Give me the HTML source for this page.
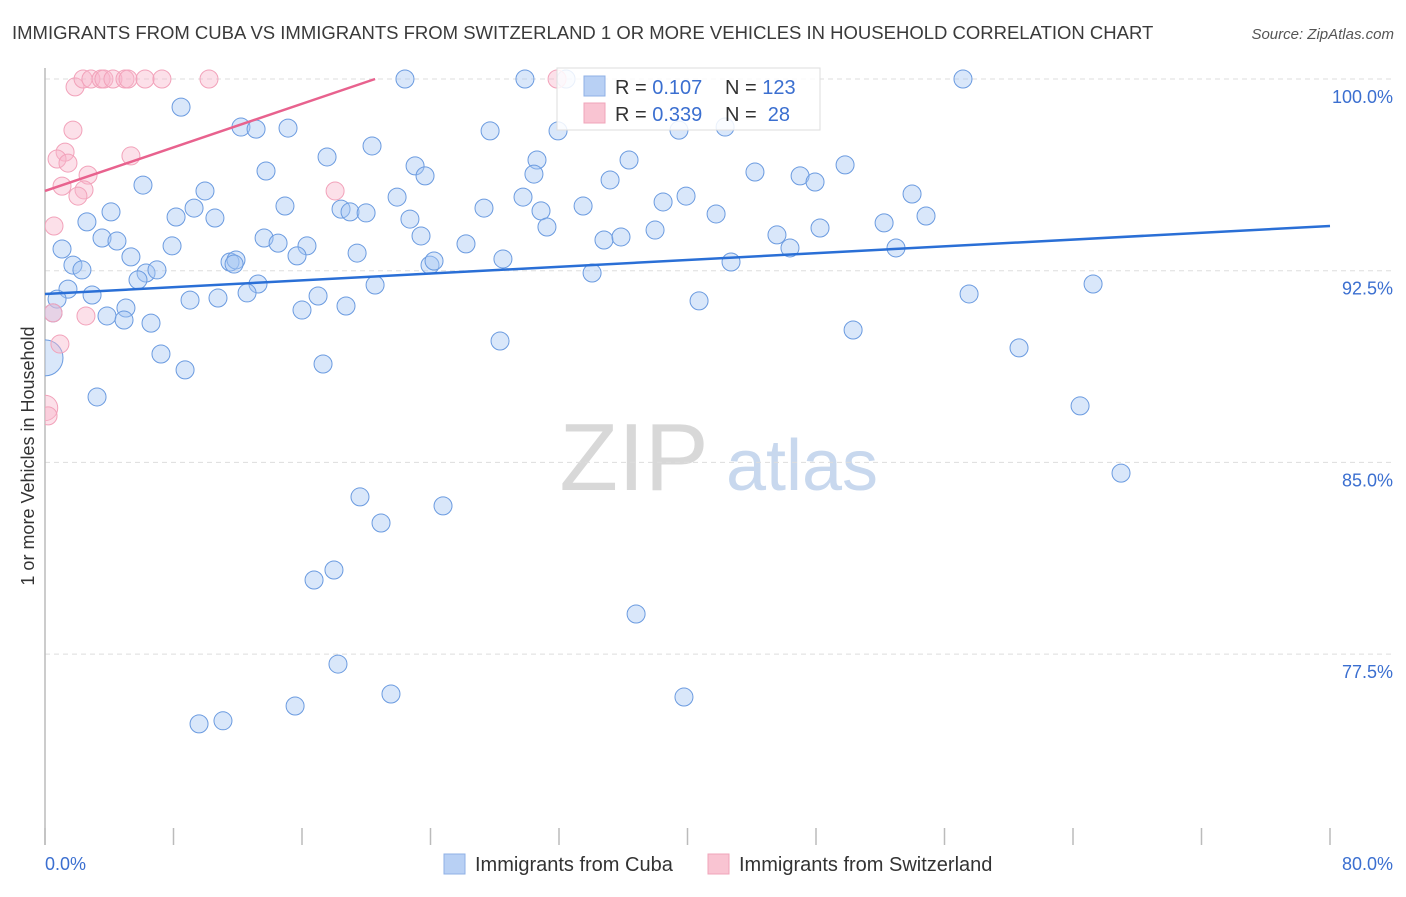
<!DOCTYPE html>
<html><head><meta charset="utf-8"><style>
body{margin:0;background:#fff;font-family:"Liberation Sans",sans-serif;}
svg text{font-family:"Liberation Sans",sans-serif;}
</style></head><body>
<svg id="chart" width="1406" height="892" xmlns="http://www.w3.org/2000/svg">
<defs><clipPath id="plotclip"><rect x="45" y="0" width="1361" height="845"/></clipPath></defs>
<text x="12" y="39" font-size="18.5" fill="#3a3a3a">IMMIGRANTS FROM CUBA VS IMMIGRANTS FROM SWITZERLAND 1 OR MORE VEHICLES IN HOUSEHOLD CORRELATION CHART</text>
<text x="1394" y="39" font-size="15" fill="#555" text-anchor="end" font-style="italic">Source: ZipAtlas.com</text>
<text transform="translate(34,456) rotate(-90)" font-size="18" fill="#333" text-anchor="middle">1 or more Vehicles in Household</text>
<g>
<text x="634" y="490" font-size="96" fill="#d8d8d8" text-anchor="middle" font-family="Liberation Serif,serif">ZIP</text>
<text x="802" y="490" font-size="72" fill="#c8d8ee" text-anchor="middle">atlas</text>
</g>
<g id="grid"></g><g id="marks" clip-path="url(#plotclip)"></g><g id="lines"></g>
<g>
<rect x="557" y="68" width="263" height="62" fill="#fff" fill-opacity="0.85" stroke="#ddd"/>
<rect x="584" y="76" width="21" height="20" fill="#b8d0f4" stroke="#8fb0e6"/>
<rect x="584" y="103" width="21" height="20" fill="#f9c4d2" stroke="#f0a4ba"/>
<text x="615" y="94" font-size="20" fill="#333">R = <tspan fill="#3b6fd0">0.107</tspan></text>
<text x="725" y="94" font-size="20" fill="#333">N = <tspan fill="#3b6fd0">123</tspan></text>
<text x="615" y="121" font-size="20" fill="#333">R = <tspan fill="#3b6fd0">0.339</tspan></text>
<text x="725" y="121" font-size="20" fill="#333">N = <tspan fill="#3b6fd0">&#160;28</tspan></text>
</g>
<g>
<rect x="444" y="854" width="21" height="20" fill="#b8d0f4" stroke="#8fb0e6"/>
<text x="475" y="871" font-size="20" fill="#333">Immigrants from Cuba</text>
<rect x="708" y="854" width="21" height="20" fill="#f9c4d2" stroke="#f0a4ba"/>
<text x="739" y="871" font-size="20" fill="#333">Immigrants from Switzerland</text>
</g>
</svg>
<script>
const yTicks=[100,92.5,85,77.5];
const xTickLabels=["0.0%","80.0%"];
const cubaX=[8.47,12.20,13.14,15.13,22.41,29.88,32.44,57.15,27.71,31.94,39.47,42.34,20.36,17.56,13.76,6.10,9.96,23.04,23.66,30.63,30.44,36.36,35.18,44.20,47.01,47.94,49.81,53.98,39.91,38.48,33.50,29.76,21.92,14.94,9.28,8.16,4.11,2.61,10.58,18.43,18.99,19.99,27.33,30.88,41.78,54.85,52.24,31.25,22.72,48.25,37.98,45.57,1.06,3.55,4.48,7.91,13.64,14.51,16.31,23.41,26.21,34.80,35.86,46.38,52.98,5.35,1.74,2.30,6.29,6.97,11.52,11.89,11.77,15.69,19.43,23.97,24.22,28.51,42.71,34.06,5.79,1.43,0.75,2.93,13.26,20.55,17.00,9.03,10.77,12.58,5.04,3.86,4.92,6.60,16.00,18.74,40.72,57.53,65.25,0.50,50.31,7.22,28.33,60.64,8.72,17.31,0,3.24,64.44,66.99,19.61,24.78,20.92,16.75,17.99,36.80,18.24,21.54,39.78,15.57,9.59,11.08];
const cubaY=[98.90,98.12,98.04,98.08,100,100,100,100,97.97,97.97,98.00,98.12,97.38,96.95,96.40,95.85,95.62,96.60,96.21,96.83,96.28,96.83,96.05,96.36,96.21,95.97,96.64,95.50,95.42,95.19,95.03,95.38,95.38,95.03,94.95,94.60,94.80,94.41,94.56,94.91,94.80,94.76,94.95,94.84,94.72,94.64,94.37,94.21,94.52,94.17,94.09,93.90,93.35,93.78,93.66,93.47,93.78,93.58,93.47,93.86,93.55,93.70,93.82,93.39,93.39,93.04,92.72,92.53,92.41,92.53,92.84,92.92,92.76,93.08,93.19,92.72,92.88,92.96,92.84,92.41,92.14,91.78,91.39,91.55,91.98,91.94,91.51,91.35,91.43,91.63,91.04,90.73,90.57,90.45,90.96,91.12,91.32,91.59,91.98,90.85,90.18,89.24,89.75,89.48,88.62,88.85,89.09,87.56,87.21,84.58,83.65,83.30,82.63,80.40,80.79,79.07,77.11,75.94,75.82,75.47,74.77,74.89];
const cubaWeight=cubaX.map((x,i)=>i===106?4:1);
const swissX=[1.87,2.37,2.86,3.49,3.67,4.23,4.98,5.17,6.23,7.28,10.21,31.88,1.74,1.25,0.75,1.43,2.68,5.35,1.06,2.43,2.05,18.06,0.56,2.55,0.93,0.50,0,0.19];
const swissY=[99.69,100,100,100,100,100,100,100,100,100,100,100,98.00,97.14,96.87,96.71,96.24,96.99,95.81,95.66,95.42,95.62,94.25,90.73,89.63,90.85,87.13,86.82];
const swissWeight=swissX.map((x,i)=>i===26?2:1);
const cubaTrend=[91.59,94.25];
const swissTrend=[95.62,100.0,20.55];

const X0=45,X1=1330,YB=845;
const sx=v=>X0+(v/80)*(X1-X0);
const sy=v=>79+(100-v)/7.5*191.7;
const NS="http://www.w3.org/2000/svg";
function mk(tag,attrs,parent){const e=document.createElementNS(NS,tag);for(const k in attrs)e.setAttribute(k,attrs[k]);parent.appendChild(e);return e;}
const grid=document.getElementById('grid'),marks=document.getElementById('marks'),lines=document.getElementById('lines');

yTicks.forEach(t=>{
  const l=mk('line',{x1:X0,x2:1394,y1:sy(t),y2:sy(t),stroke:'#ddd','stroke-dasharray':'5,4'},grid);
  
  
  const tx=mk('text',{x:1393,y:sy(t)+24,'font-size':18,fill:'#3b6fd0','text-anchor':'end'},grid);
  tx.textContent=t.toFixed(1)+'%';
  
  
});
const ax=mk('line',{x1:X0,x2:X0,y1:68,y2:YB,stroke:'#bbb','stroke-width':1.5},grid);


for(let i=0;i<=10;i++){
  const t=mk('line',{x1:sx(i*8),x2:sx(i*8),y1:828,y2:YB,stroke:'#bbb','stroke-width':1.5},grid);
  
  
}
[[0,'start',45],[80,'end',1393]].forEach((d,i)=>{
  const tx=mk('text',{x:d[2],y:870,'font-size':18,fill:'#3b6fd0','text-anchor':d[1]},grid);
  tx.textContent=xTickLabels[i];
  
  
});

cubaX.forEach((x,i)=>{
  const c=mk('circle',{cx:sx(x),cy:sy(cubaY[i]),r:9*Math.sqrt(cubaWeight[i]),fill:'rgba(165,198,242,0.42)',stroke:'#6b9be0','stroke-width':1},marks);
  
  
});
swissX.forEach((x,i)=>{
  const c=mk('circle',{cx:sx(x),cy:sy(swissY[i]),r:9*Math.sqrt(swissWeight[i]),fill:'rgba(248,182,202,0.42)',stroke:'#f2a2ba','stroke-width':1},marks);
  
  
});
const bl=mk('line',{x1:sx(0),y1:sy(cubaTrend[0]),x2:sx(80),y2:sy(cubaTrend[1]),stroke:'#2a6fd6','stroke-width':2.5},lines);


const pl=mk('line',{x1:sx(0),y1:sy(swissTrend[0]),x2:sx(swissTrend[2]),y2:sy(swissTrend[1]),stroke:'#e8628e','stroke-width':2.5},lines);


</script>
</body></html>
